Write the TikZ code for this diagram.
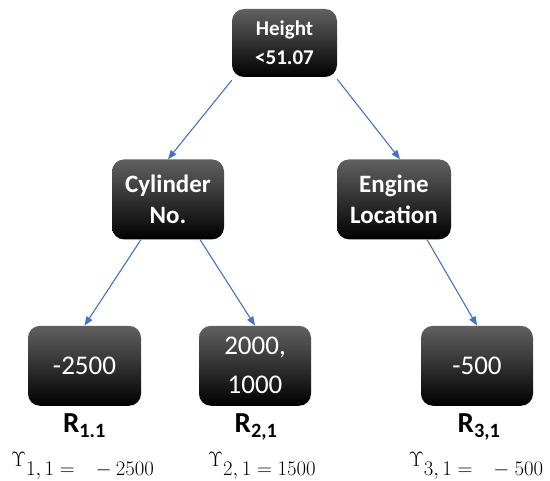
\documentclass[tikz,border=0pt]{standalone}
\usepackage{amsmath}
\usepackage{fontspec}
\setmainfont{Carlito}
\usepackage{tikz}
\usetikzlibrary{positioning,arrows.meta}
\definecolor{edgeblue}{HTML}{4472C4}

\begin{document}
\begin{tikzpicture}[%
    x=1pt, y=1pt,
    ->,
    >={Triangle[length=9pt,width=7pt]},
    node distance=82pt,
    split/.style={%
      rectangle,
      rounded corners=12pt,
      top color=black!62,
      middle color=black,
      bottom color=black,
      text=white,
      align=center,
      inner sep=2pt,
      minimum width=112pt,
      minimum height=80pt,
      font=\bfseries\fontsize{25}{31}\selectfont
    },
    leaf/.style={split, font=\fontsize{27}{39}\selectfont},
    region/.style={anchor=base, inner sep=0pt, font=\bfseries\fontsize{29}{32}\selectfont},
    gain/.style={anchor=base, inner sep=0pt, text=black, font=\fontsize{20}{24}\selectfont},
    flow/.style={draw=edgeblue, line width=1.1pt}
  ]
    \useasboundingbox (0,0) rectangle (550,-481);

    \node[split, minimum width=105pt, minimum height=68pt,
          font=\bfseries\fontsize{21}{29}\selectfont] (root) at (284.5,-43) {Height\\<51.07};
    \node[split] (cyl) [below=of root, xshift=-116.5pt] {Cylinder\\No.};
    \node[split, minimum width=114pt] (eng) [below=of root, xshift=109.5pt] {Engine\\Location};
    \node[leaf, minimum width=113pt] (b1) [node distance=86pt, below=of cyl, xshift=-83.5pt] {-2500};
    \node[leaf] (b2) [node distance=86pt, below=of cyl, xshift=87pt] {2000,\\1000};
    \node[leaf] (b3) [node distance=86pt, below=of eng, xshift=83pt] {-500};

    % region names and their values
    \node[region] (r1) at ([yshift=-27pt]b1.south) {$\text{R}_{\text{1.1}}$};
    \node[region] (r2) at ([xshift=1pt,yshift=-27pt]b2.south) {$\text{R}_{\text{2,1}}$};
    \node[region] (r3) at ([xshift=2pt,yshift=-27pt]b3.south) {$\text{R}_{\text{3,1}}$};
    \node[gain] (g1) at ([xshift=-2pt,yshift=-70pt]b1.south)
      {$\raisebox{9pt}{$\Upsilon$}1,1 =\hspace{15pt}{-}\hspace{4pt}2500$};
    \node[gain] (g2) at ([xshift=7pt,yshift=-70pt]b2.south)
      {$\raisebox{9pt}{$\Upsilon$}2,1 = 1500$};
    \node[gain] (g3) at ([xshift=-1pt,yshift=-70pt]b3.south)
      {$\raisebox{9pt}{$\Upsilon$}3,1 =\hspace{15pt}{-}\hspace{5pt}500$};

    \path ([yshift=-3pt]root.south west) edge [flow] (cyl.north)
          ([yshift=-2pt]root.south east) edge [flow] ([xshift=6pt]eng.north)
          ([xshift=-27pt]cyl.south)      edge [flow] (b1.north)
          ([xshift=32pt]cyl.south)       edge [flow] (b2.north)
          ([xshift=33pt]eng.south)       edge [flow] (b3.north)
          ;
  \end{tikzpicture}
\end{document}
